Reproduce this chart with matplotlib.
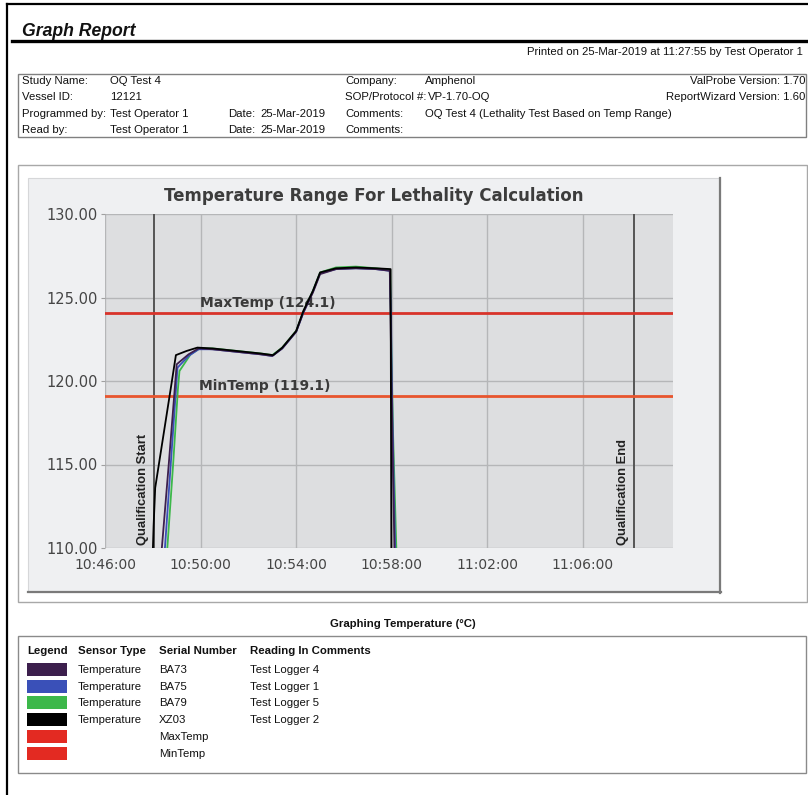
import matplotlib
matplotlib.use('Agg')
import matplotlib.pyplot as plt
import matplotlib.dates as mdates
import matplotlib.ticker as mticker
from matplotlib.patches import Rectangle
from matplotlib.lines import Line2D
from matplotlib.transforms import Affine2D
import pandas as pd

# ---------------- data ----------------
DAY = "2019-03-25 "

ba73_time = ["10:48:21", "10:48:40", "10:49:00", "10:49:30", "10:49:55", "10:50:30", "10:51:30",
             "10:52:30", "10:53:00", "10:53:25", "10:54:00", "10:54:18", "10:54:42", "10:55:00",
             "10:55:40", "10:56:30", "10:57:20", "10:57:55", "10:57:58", "10:58:02", "10:58:07"]
ba73_temp = [109.5, 115.0, 121.0, 121.6, 121.95, 121.9, 121.75,
             121.6, 121.5, 121.95, 122.95, 124.1, 125.3, 126.4,
             126.7, 126.75, 126.7, 126.6, 122.0, 116.0, 109.5]

ba75_time = ["10:48:29", "10:48:45", "10:49:02", "10:49:30", "10:49:55", "10:50:30", "10:51:30",
             "10:52:30", "10:53:00", "10:53:25", "10:54:00", "10:54:18", "10:54:42", "10:55:00",
             "10:55:40", "10:56:30", "10:57:20", "10:57:55", "10:57:58", "10:58:00", "10:58:04",
             "10:58:09"]
ba75_temp = [109.5, 115.0, 120.8, 121.5, 121.9, 121.9, 121.75,
             121.6, 121.5, 121.95, 122.95, 124.1, 125.35, 126.45,
             126.7, 126.75, 126.7, 126.6, 124.0, 120.0, 115.0,
             109.5]

ba79_time = ["10:48:35", "10:48:51", "10:49:03", "10:49:07", "10:49:35", "10:49:58", "10:50:30",
             "10:51:30", "10:52:30", "10:53:00", "10:53:25", "10:54:00", "10:54:18", "10:54:42",
             "10:55:00", "10:55:40", "10:56:30", "10:57:20", "10:57:56", "10:57:58", "10:58:03",
             "10:58:12"]
ba79_temp = [109.5, 115.0, 119.5, 120.6, 121.6, 121.95, 121.95,
             121.8, 121.65, 121.55, 122.0, 123.0, 124.15, 125.4,
             126.5, 126.8, 126.85, 126.75, 126.65, 123.0, 117.0,
             109.5]

xz03_time = ["10:47:59", "10:48:02", "10:48:06", "10:48:48", "10:48:58", "10:49:25", "10:49:52",
             "10:50:30", "10:51:30", "10:52:30", "10:53:02", "10:53:25", "10:54:00", "10:54:18",
             "10:54:42", "10:55:00", "10:55:40", "10:56:30", "10:57:20", "10:57:57", "10:57:58",
             "10:57:59"]
xz03_temp = [109.0, 111.3, 113.6, 120.0, 121.55, 121.8, 122.0,
             121.95, 121.8, 121.65, 121.55, 122.0, 123.0, 124.2,
             125.4, 126.5, 126.75, 126.8, 126.75, 126.7, 118.0,
             109.0]

max_temp = 124.1
min_temp = 119.1
qual_start = "10:48:03"
qual_end = "11:08:08"
x_start = "10:46:00"
x_end = "11:09:46"
y_ticks = [110, 115, 120, 125, 130]

series_names = ["BA73", "BA75", "BA79", "XZ03"]
series_colors = ["#3c1f4d", "#3a50b8", "#3cb84a", "#000000"]
series_loggers = ["Test Logger 4", "Test Logger 1", "Test Logger 5", "Test Logger 2"]
limit_names = ["MaxTemp", "MinTemp"]
limit_colors = ["#e32a22", "#e32a22"]

info_left = [("Study Name:", "OQ Test 4"), ("Vessel ID:", "12121"),
             ("Programmed by:", "Test Operator 1"), ("Read by:", "Test Operator 1")]
info_dates = ["", "", "25-Mar-2019", "25-Mar-2019"]
info_mid = [("Company:", "Amphenol"), ("SOP/Protocol #:", "VP-1.70-OQ"),
            ("Comments:", "OQ Test 4 (Lethality Test Based on Temp Range)"), ("Comments:", "")]
info_right = ["ValProbe Version: 1.70", "ReportWizard Version: 1.60", "", ""]


def ts(t):
    return pd.to_datetime(DAY + pd.Series(t))


# ---------------- figure ----------------
W, H = 808, 795
fig = plt.figure(figsize=(W / 100, H / 100), dpi=100)
fig.patch.set_facecolor('white')
px = Affine2D().scale(1 / W, -1 / H).translate(0, 1) + fig.transFigure

SANS = ['Liberation Sans', 'DejaVu Sans']
FS = 8.2


def rect(x0, y0, x1, y1, z=-1, **kw):
    fig.add_artist(Rectangle((x0, y0), x1 - x0, y1 - y0, transform=px, zorder=z, **kw))


def hline(x0, x1, y, **kw):
    fig.add_artist(Line2D([x0, x1], [y, y], transform=px, **kw))


def vline(x, y0, y1, **kw):
    fig.add_artist(Line2D([x, x], [y0, y1], transform=px, **kw))


def txt(x, y, s, **kw):
    kw.setdefault('family', SANS)
    kw.setdefault('va', 'center')
    kw.setdefault('fontsize', FS)
    kw.setdefault('color', '#111111')
    fig.text(x, y, s, transform=px, **kw)


# page border
vline(7, 4, 795, color='black', lw=1.6)
hline(7, 808, 4, color='black', lw=1.6)

# header
txt(22, 31, "Graph Report", fontsize=12.7, fontweight='bold', fontstyle='italic')
hline(12, 808, 41, color='black', lw=2.4)
txt(803, 52, "Printed on 25-Mar-2019 at 11:27:55 by Test Operator 1", ha='right')

# info box
rect(18, 74, 806, 137, fill=False, edgecolor='#808080', lw=1)
row_y = [81.5, 97.5, 114, 130]
for i, y in enumerate(row_y):
    txt(22, y, info_left[i][0])
    txt(110, y, info_left[i][1])
    if info_dates[i]:
        txt(228, y, "Date:")
        txt(260, y, info_dates[i])
    lab, val = info_mid[i]
    txt(345, y, lab)
    txt(428 if lab.startswith("SOP") else 425, y, val)
    if info_right[i]:
        txt(805, y, info_right[i], ha='right')

# chart section
rect(18, 165, 807, 602, facecolor='white', edgecolor='#a8a8a8', lw=1)
rect(28, 178, 720, 592, z=-0.5, facecolor='#eff0f2', edgecolor='#d6d7d9', lw=0.8)
vline(720, 178, 593, color='#7a7a7a', lw=1.6)
hline(28, 721, 592, color='#7a7a7a', lw=1.6)
txt(374, 196, "Temperature Range For Lethality Calculation", ha='center',
    family=['DejaVu Sans'], fontweight='bold', fontsize=12, color='#3c3c3c')

ax = fig.add_axes([105 / W, 1 - 548 / H, 568 / W, 334 / H])
ax.set_facecolor('#dddee0')
for s in ax.spines.values():
    s.set_visible(False)

ax.set_xlim(ts([x_start])[0], ts([x_end])[0])
ax.set_ylim(110, 130)
ax.set_yticks(y_ticks)
ax.yaxis.set_major_formatter(mticker.FormatStrFormatter('%.2f'))
ax.xaxis.set_major_locator(mdates.MinuteLocator(byminute=list(range(2, 60, 4))))
ax.xaxis.set_major_formatter(mdates.DateFormatter('%H:%M:%S'))
ax.grid(True, color='#b5b6b8', lw=1)
ax.set_axisbelow(True)
ax.tick_params(axis='y', length=3, color='#a0a0a0', labelsize=10.5, labelcolor='#454545', pad=2)
ax.tick_params(axis='x', length=0, labelsize=10, labelcolor='#454545', pad=7)

# limit lines
ax.axhline(max_temp, color='#d8332a', lw=2.0, zorder=3)
ax.axhline(min_temp, color='#e8552e', lw=2.0, zorder=3)
ax.text(ts(["10:52:49"])[0], max_temp + 0.6, "MaxTemp (%.1f)" % max_temp, ha='center',
        va='center', fontsize=10, fontweight='bold', color='#3a3a3a')
ax.text(ts(["10:52:40"])[0], min_temp + 0.6, "MinTemp (%.1f)" % min_temp, ha='center',
        va='center', fontsize=10, fontweight='bold', color='#3a3a3a')

# qualification markers
qs = ts([qual_start])[0]
qe = ts([qual_end])[0]
ax.axvline(qs, color='#555555', lw=1.4, zorder=2)
ax.axvline(qe, color='#555555', lw=1.4, zorder=2)
ax.text(qs - pd.Timedelta(seconds=13), 110.2, "Qualification Start", rotation=90, ha='right',
        va='bottom', family=SANS, fontweight='bold', fontsize=9.4, color='#222222')
ax.text(qe - pd.Timedelta(seconds=13), 110.2, "Qualification End", rotation=90, ha='right',
        va='bottom', family=SANS, fontweight='bold', fontsize=9.4, color='#222222')

# series
for t, v, c in [(ba79_time, ba79_temp, series_colors[2]),
                (ba75_time, ba75_temp, series_colors[1]),
                (ba73_time, ba73_temp, series_colors[0]),
                (xz03_time, xz03_temp, series_colors[3])]:
    ax.plot(ts(t), v, color=c, lw=1.3, zorder=4)

# legend section
txt(403, 624, "Graphing Temperature (\u00b0C)", ha='center', fontweight='bold')
rect(18, 636, 806, 773, fill=False, edgecolor='#8a8a8a', lw=1)
hy = 651
txt(27, hy, "Legend", fontweight='bold')
txt(78, hy, "Sensor Type", fontweight='bold')
txt(159, hy, "Serial Number", fontweight='bold')
txt(250, hy, "Reading In Comments", fontweight='bold')
row_ys = [670, 687, 703, 720, 737, 754]
for i in range(4):
    y = row_ys[i]
    rect(27, y - 7, 67, y + 6, z=1, facecolor=series_colors[i], edgecolor='none')
    txt(78, y, "Temperature")
    txt(159, y, series_names[i])
    txt(250, y, series_loggers[i])
for j in range(2):
    y = row_ys[4 + j]
    rect(27, y - 7, 67, y + 6, z=1, facecolor=limit_colors[j], edgecolor='none')
    txt(159, y, limit_names[j])

fig.savefig('out.png', dpi=100)
